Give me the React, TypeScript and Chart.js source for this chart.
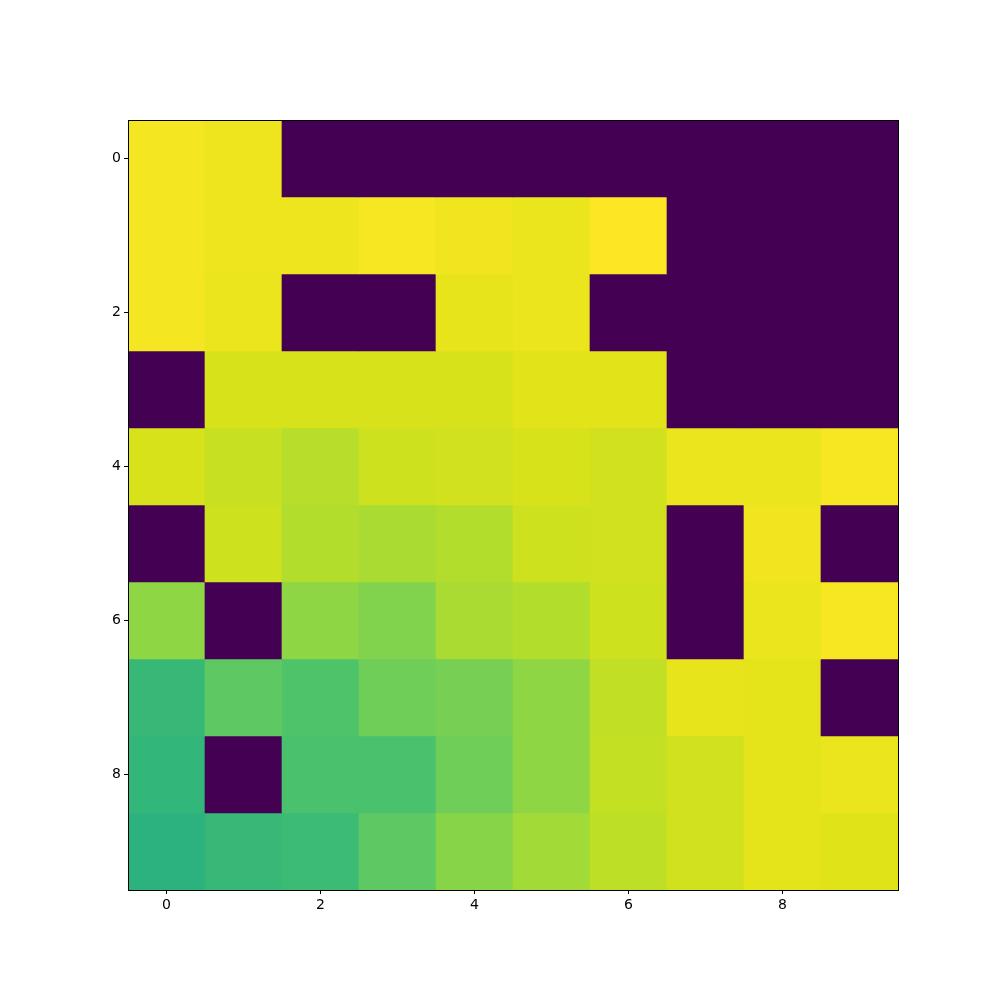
import React, { useEffect, useRef } from "react";
import { Chart, registerables } from "chart.js";

Chart.register(...registerables);

const columnLabels = ["0", "1", "2", "3", "4", "5", "6", "7", "8", "9"];
const rowIndices = [0, 1, 2, 3, 4, 5, 6, 7, 8, 9];
const yTickValues = [0, 2, 4, 6, 8];

// normalized cell values (0 = minimum / dark purple, 1 = maximum / yellow)
const row0 = [0.985, 0.975, 0, 0, 0, 0, 0, 0, 0, 0];
const row1 = [0.985, 0.975, 0.975, 0.99, 0.98, 0.97, 1.0, 0, 0, 0];
const row2 = [0.985, 0.97, 0, 0, 0.965, 0.97, 0, 0, 0, 0];
const row3 = [0, 0.94, 0.94, 0.94, 0.94, 0.955, 0.955, 0, 0, 0];
const row4 = [0.94, 0.915, 0.89, 0.925, 0.93, 0.94, 0.93, 0.97, 0.97, 0.99];
const row5 = [0, 0.925, 0.885, 0.87, 0.885, 0.925, 0.93, 0, 0.98, 0];
const row6 = [0.83, 0, 0.83, 0.81, 0.87, 0.885, 0.925, 0, 0.97, 0.99];
const row7 = [0.67, 0.75, 0.72, 0.78, 0.795, 0.83, 0.905, 0.965, 0.96, 0];
const row8 = [0.66, 0, 0.71, 0.71, 0.78, 0.83, 0.91, 0.93, 0.96, 0.97];
const row9 = [0.64, 0.67, 0.68, 0.75, 0.82, 0.86, 0.9, 0.93, 0.96, 0.95];
const grid = [row0, row1, row2, row3, row4, row5, row6, row7, row8, row9];

const viridisStops = [
  "#440154", "#471365", "#482475", "#463480", "#414487", "#3b528b", "#355f8d",
  "#2f6c8e", "#2a788e", "#25848e", "#21918c", "#1e9c89", "#22a884", "#2fb47c",
  "#44bf70", "#5ec962", "#7ad151", "#9bd93c", "#bddf26", "#dfe318", "#fde725",
];

function hexToRgb(h: string) {
  return [parseInt(h.slice(1, 3), 16), parseInt(h.slice(3, 5), 16), parseInt(h.slice(5, 7), 16)];
}

function viridis(t: number) {
  const v = Math.max(0, Math.min(1, t));
  const pos = v * (viridisStops.length - 1);
  const i = Math.min(Math.floor(pos), viridisStops.length - 2);
  const f = pos - i;
  const a = hexToRgb(viridisStops[i]);
  const b = hexToRgb(viridisStops[i + 1]);
  const c = a.map((x, k) => Math.round(x + (b[k] - x) * f));
  return `rgb(${c[0]},${c[1]},${c[2]})`;
}

const framePlugin = {
  id: "frame",
  afterDraw(chart: any) {
    const { ctx, chartArea } = chart;
    ctx.save();
    ctx.strokeStyle = "#000";
    ctx.lineWidth = 1;
    ctx.strokeRect(
      Math.round(chartArea.left) + 0.5,
      Math.round(chartArea.top) + 0.5,
      Math.round(chartArea.right - chartArea.left),
      Math.round(chartArea.bottom - chartArea.top)
    );
    ctx.restore();
  },
};

export default function App() {
  const ref = useRef<HTMLCanvasElement>(null);
  useEffect(() => {
    if (!ref.current) return;
    const datasets = rowIndices.map((r) => ({
      label: "row " + r,
      data: grid[r].map(() => [r - 0.5, r + 0.5]),
      backgroundColor: grid[r].map((v) => viridis(v)),
      borderWidth: 0,
      barPercentage: 1,
      categoryPercentage: 1,
      grouped: false,
    }));
    const chart = new Chart(ref.current, {
      type: "bar",
      data: { labels: columnLabels, datasets: datasets as any },
      plugins: [framePlugin],
      options: {
        animation: false,
        responsive: false,
        devicePixelRatio: 1,
        layout: { padding: { left: 68, right: 102, top: 120, bottom: 70 } },
        plugins: { legend: { display: false }, tooltip: { enabled: false } },
        scales: {
          x: {
            type: "category",
            offset: true,
            afterBuildTicks: (scale: any) => {
              scale.ticks = scale.ticks.filter((t: any) => t.value % 2 === 0);
            },
            afterFit: (scale: any) => {
              scale.height = 40;
            },
            grid: { display: true, drawOnChartArea: false, tickLength: 4, color: "#000", offset: false },
            border: { display: true, color: "#000" },
            ticks: {
              color: "#000",
              padding: 3,
              maxRotation: 0,
              autoSkip: false,
              font: { family: "DejaVu Sans", size: 14 },
            },
          },
          y: {
            type: "linear",
            reverse: true,
            min: -0.5,
            max: 9.5,
            afterBuildTicks: (scale: any) => {
              scale.ticks = yTickValues.map((v) => ({ value: v }));
            },
            afterFit: (scale: any) => {
              scale.width = 60;
            },
            grid: { display: true, drawOnChartArea: false, tickLength: 4, color: "#000" },
            border: { display: true, color: "#000" },
            ticks: {
              color: "#000",
              padding: 3,
              font: { family: "DejaVu Sans", size: 14 },
            },
          },
        },
      },
    });
    return () => chart.destroy();
  }, []);
  return (
    <div style={{ position: "absolute", left: 0, top: 0, width: 1000, height: 1000, background: "#fff" }}>
      <canvas ref={ref} width={1000} height={1000} style={{ width: 1000, height: 1000 }} />
    </div>
  );
}
